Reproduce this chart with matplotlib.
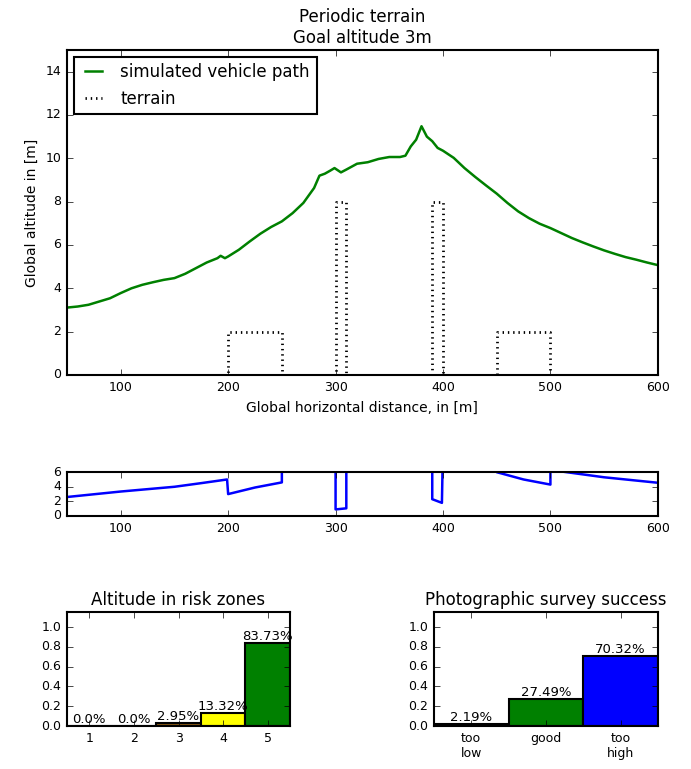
import matplotlib
matplotlib.use('Agg')
import matplotlib.pyplot as plt

plt.style.use('classic')
plt.rcParams['font.family'] = ['DejaVu Sans']
plt.rcParams['axes.linewidth'] = 1.5

# vehicle path (x in m, altitude in m)
path_x = [50, 60, 70, 80, 90, 100, 110, 120, 130, 140, 150, 160, 170, 180, 190, 193,
          197, 200, 210, 220, 230, 240, 250, 260, 270, 280, 285, 290, 295, 299, 305,
          310, 320, 330, 340, 350, 360, 365, 370, 375, 380, 385, 390, 395, 400, 410,
          420, 430, 440, 450, 460, 470, 480, 490, 500, 510, 520, 530, 540, 550, 560,
          570, 580, 590, 600]
path_y = [3.11, 3.16, 3.24, 3.39, 3.54, 3.78, 4.0, 4.16, 4.28, 4.39, 4.47, 4.67, 4.93,
          5.19, 5.39, 5.5, 5.39, 5.47, 5.78, 6.16, 6.52, 6.83, 7.09, 7.47, 7.94, 8.63,
          9.2, 9.29, 9.43, 9.55, 9.35, 9.48, 9.75, 9.82, 9.97, 10.06, 10.06, 10.12,
          10.55, 10.86, 11.48, 11.0, 10.79, 10.48, 10.35, 10.02, 9.55, 9.14, 8.75,
          8.37, 7.94, 7.55, 7.24, 6.98, 6.78, 6.55, 6.32, 6.12, 5.93, 5.75, 5.59,
          5.44, 5.32, 5.19, 5.07]

terrain_x = [50, 200, 200, 250, 250, 300, 300, 310, 310, 390, 390, 400, 400, 450,
             450, 500, 500, 600]
terrain_y = [0, 0, 2, 2, 0, 0, 8, 8, 0, 0, 8, 8, 0, 0, 2, 2, 0, 0]

# height above terrain (lower strip)
clear_x = [50, 100, 150, 175, 199, 200, 225, 250, 250, 300, 300, 310, 310, 390,
           390, 399, 400, 450, 450, 475, 500, 500, 550, 600]
clear_y = [2.6, 3.35, 4.0, 4.5, 5.0, 3.0, 3.9, 4.6, 6.6, 9.0, 0.9, 1.05, 9.0, 10.3,
           2.3, 1.8, 9.85, 7.9, 6.0, 5.0, 4.3, 6.3, 5.3, 4.55]

zones = [1, 2, 3, 4, 5]
zone_pct = [0.0, 0.0, 2.95, 13.32, 83.73]
zone_colors = ['red', 'orange', '#8b5a14', 'yellow', 'green']

survey_labels = ['too\nlow', 'good', 'too\nhigh']
survey_pct = [2.19, 27.49, 70.32]
survey_colors = ['black', 'green', 'blue']

fig = plt.figure(figsize=(6.91, 7.69), dpi=100, facecolor='white')

ax = fig.add_axes([0.097, 0.5124, 0.855, 0.4226])
ax.plot(path_x, path_y, color='green', lw=1.8, label='simulated vehicle path')
ax.plot(terrain_x, terrain_y, color='black', ls=(0, (1, 2.8)), lw=2, label='terrain')
ax.set_xlim(50, 600)
ax.set_ylim(0, 15)
ax.set_xticks([100, 200, 300, 400, 500, 600])
ax.set_yticks(range(0, 15, 2))
ax.tick_params(labelsize=9)
ax.set_xlabel('Global horizontal distance, in [m]', fontsize=10)
ax.set_ylabel('Global altitude in [m]', fontsize=10)
ax.set_title('Periodic terrain\nGoal altitude 3m', fontsize=12)
leg = ax.legend(loc='upper left', fontsize=12, borderaxespad=0.4, handlelength=1.6)
leg.get_frame().set_linewidth(1.5)

ax2 = fig.add_axes([0.097, 0.329, 0.855, 0.057])
ax2.plot(clear_x, clear_y, color='blue', lw=1.8)
ax2.set_xlim(50, 600)
ax2.set_ylim(0, 6)
ax2.set_xticks([100, 200, 300, 400, 500, 600])
ax2.set_yticks([0, 2, 4, 6])
ax2.tick_params(labelsize=9)

ax3 = fig.add_axes([0.097, 0.0559, 0.3227, 0.148])
h = [p / 100 for p in zone_pct]
ax3.bar(zones, h, width=1, color=zone_colors, edgecolor='black', lw=1.5, align='center')
for x, v, p in zip(zones, h, zone_pct):
    ax3.text(x, v + 0.003, '%s%%' % p, ha='center', va='bottom', fontsize=9.5)
ax3.set_xlim(0.5, 5.5)
ax3.set_ylim(0, 1.15)
ax3.set_xticks(zones)
ax3.set_yticks([0, 0.2, 0.4, 0.6, 0.8, 1.0])
ax3.tick_params(labelsize=9)
ax3.set_title('Altitude in risk zones', fontsize=12)

ax4 = fig.add_axes([0.628, 0.0559, 0.324, 0.148])
pos = list(range(len(survey_labels)))
h2 = [p / 100 for p in survey_pct]
ax4.bar(pos, h2, width=1, color=survey_colors, edgecolor='black', lw=1.5, align='center')
for x, v, p in zip(pos, h2, survey_pct):
    ax4.text(x, v + 0.003, '%s%%' % p, ha='center', va='bottom', fontsize=9.5)
ax4.set_xlim(-0.5, 2.5)
ax4.set_ylim(0, 1.15)
ax4.set_xticks(pos)
ax4.set_xticklabels(survey_labels)
ax4.set_yticks([0, 0.2, 0.4, 0.6, 0.8, 1.0])
ax4.tick_params(labelsize=9)
ax4.set_title('Photographic survey success', fontsize=12)

fig.savefig('out.png', dpi=100, facecolor='white')
